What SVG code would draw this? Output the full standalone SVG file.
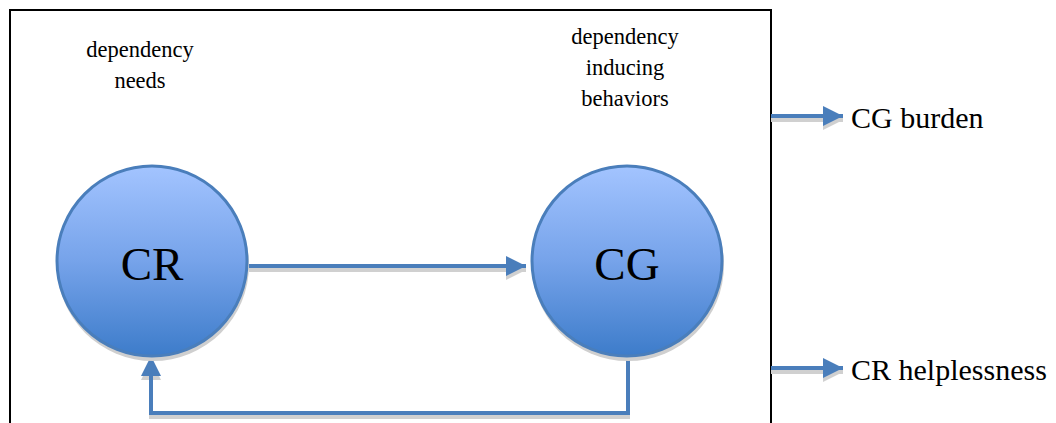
<svg xmlns="http://www.w3.org/2000/svg" width="1056" height="423" viewBox="0 0 1056 423">
<defs>
<linearGradient id="g" x1="0" y1="0" x2="0" y2="1">
<stop offset="0" stop-color="#a3c4ff"/>
<stop offset="0.5" stop-color="#76a3ea"/>
<stop offset="1" stop-color="#3d7cca"/>
</linearGradient>
<marker id="ah" viewBox="0 0 10 10" refX="10" refY="5" markerWidth="5" markerHeight="5" orient="auto" markerUnits="strokeWidth">
<path d="M0,0 L10,5 L0,10 Z" fill="#4a7ebb"/>
</marker>
<marker id="ahs" viewBox="0 0 10 10" refX="10" refY="5" markerWidth="5" markerHeight="5" orient="auto" markerUnits="strokeWidth">
<path d="M0,0 L10,5 L0,10 Z" fill="#d0d0d0"/>
</marker>
</defs>
<style>
.t{font-family:"Liberation Serif","DejaVu Serif",serif;fill:#000}
.lbl{font-size:22.5px;text-anchor:middle}
.big{font-size:47px;text-anchor:middle}
.out{font-size:30px}
.c{fill:url(#g);stroke:#4a7ebb;stroke-width:3}
.sh{fill:#cfcfcf}
.ln{stroke:#4a7ebb;stroke-width:4;fill:none}
.lns{stroke:#d0d0d0;stroke-width:4;fill:none}
</style>
<rect x="10" y="10" width="761" height="430" fill="none" stroke="#000" stroke-width="2"/>
<g id="labels">
<text class="t lbl" x="140" y="57">dependency</text>
<text class="t lbl" x="140" y="88">needs</text>
<text class="t lbl" x="625" y="44">dependency</text>
<text class="t lbl" x="625" y="75">inducing</text>
<text class="t lbl" x="625" y="106">behaviors</text>
</g>
<g id="connectors">
<path class="lns" d="M249,270 L526,270" marker-end="url(#ahs)"/>
<path class="ln" d="M249,266 L526,266" marker-end="url(#ah)"/>
<path class="lns" d="M628,360 L628,417 L151,417 L151,360" marker-end="url(#ahs)"/>
<path class="ln" d="M628,358 L628,413 L151,413 L151,356" marker-end="url(#ah)"/>
<path class="lns" d="M771,120 L843,120" marker-end="url(#ahs)"/>
<path class="ln" d="M771,116 L843,116" marker-end="url(#ah)"/>
<path class="lns" d="M771,372 L843,372" marker-end="url(#ahs)"/>
<path class="ln" d="M771,368 L843,368" marker-end="url(#ah)"/>
</g>
<g id="CR">
<circle class="sh" cx="153" cy="265" r="96"/>
<circle class="c" cx="152" cy="261" r="95"/>
<text class="t big" x="152" y="280">CR</text>
</g>
<g id="CG">
<circle class="sh" cx="628" cy="265" r="96"/>
<circle class="c" cx="627" cy="261" r="95"/>
<text class="t big" x="627" y="280">CG</text>
</g>
<g id="CGburden">
<text class="t out" x="851" y="128">CG burden</text>
</g>
<g id="CRhelplessness">
<text class="t out" x="851" y="380">CR helplessness</text>
</g>
</svg>
